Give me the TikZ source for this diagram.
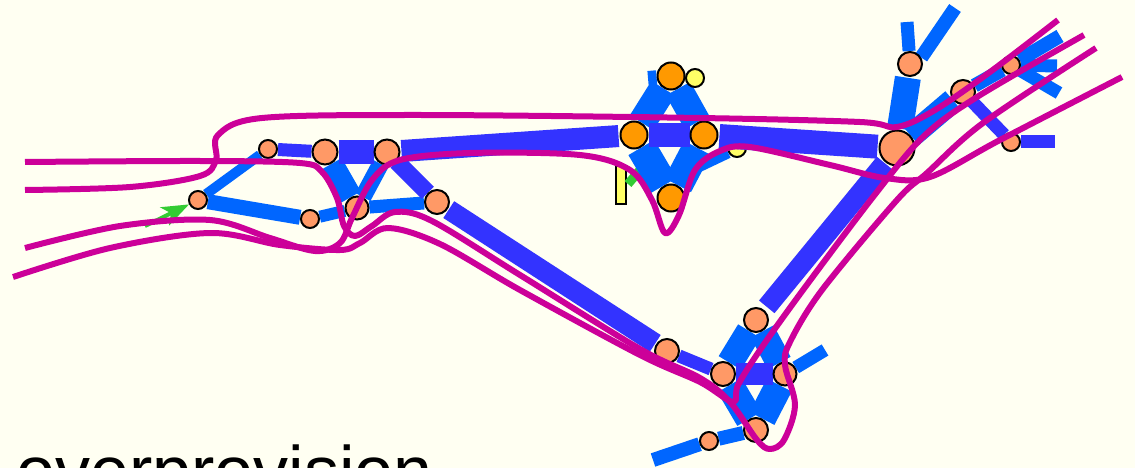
\documentclass[tikz,border=0pt]{standalone}
\usepackage{fontspec}
\usetikzlibrary{arrows.meta}
\setmainfont{Liberation Sans}
\definecolor{paper}{HTML}{FFFFF2}
\definecolor{linkblue}{HTML}{0066FF}
\definecolor{linkpurple}{HTML}{3333FF}
\definecolor{peachy}{HTML}{FF9966}
\definecolor{orangey}{HTML}{FF9900}
\definecolor{lemon}{HTML}{FFFF66}
\definecolor{flowpink}{HTML}{CC0099}
\definecolor{leafgreen}{HTML}{33CC33}
\pgfdeclarelayer{sheet}
\pgfdeclarelayer{links}
\pgfsetlayers{sheet,links,main}
\tikzset{
  router/.style={circle,draw=black,line width=2pt,fill=peachy,inner sep=0pt,minimum size=#1},
  hub/.style={router=#1,fill=orangey},
  host/.style={router=#1,fill=lemon},
  bluelink/.style={draw=linkblue,line width=#1},
  purplelink/.style={draw=linkpurple,line width=#1},
  flow/.style={draw=flowpink,line width=6pt,line join=round}
}
\begin{document}
\begin{tikzpicture}[x=1pt,y=-1pt]
\clip (0,0) rectangle (1135,468);
\begin{pgfonlayer}{sheet}
\fill[paper] (0,0) rectangle (1135,468);
\end{pgfonlayer}
\node[host=18pt] (y1) at (695,78) {};
% left part
\node[router=18pt] (a) at (198,200) {};
\node[router=18pt] (b) at (268,149) {};
\node[router=25pt] (c) at (325,152) {};
\node[router=25pt] (d) at (387,152) {};
\node[router=23pt] (e) at (357,208) {};
\node[router=18pt] (f) at (310,219) {};
\node[router=24pt] (g) at (437,202) {};
% centre
\node[hub=27pt] (n) at (634,135) {};
\node[hub=27pt] (o) at (704,135) {};
\node[hub=27pt] (p) at (671,76) {};
\node[hub=27pt] (q) at (671,198) {};
% bottom
\node[router=24pt] (h) at (667,351) {};
\node[router=24pt] (i) at (723,374) {};
\node[router=24pt] (j) at (756,320) {};
\node[router=23pt] (k) at (785,374) {};
\node[router=24pt] (l) at (756,430) {};
\node[router=18pt] (m) at (709,441) {};
% top right
\node[router=35pt] (s) at (897,148) {};
\node[router=24pt] (t) at (910,64) {};
\node[router=24pt] (u) at (963,92) {};
\node[router=18pt] (v) at (1011,65) {};
\node[router=18pt] (w) at (1011,142) {};
% free ends
\coordinate (m1) at (653,460);
\coordinate (k1) at (825,350);
\coordinate (t1) at (907,22);
\coordinate (t2) at (955,8);
\coordinate (v1) at (1060,36);
\coordinate (v2) at (1057,66);
\coordinate (v3) at (1059,93);
\coordinate (w1) at (1055,142);
\coordinate (p1) at (648,78);
\coordinate (q1) at (695,168);
\coordinate (g1) at (145,226);
\coordinate (g2) at (628,184);
\coordinate (g3) at (640,170);
\begin{pgfonlayer}{links}
\node[host=18pt] (y2) at (737,148) {};
\node[draw=black,line width=2pt,fill=lemon,inner sep=0pt,minimum width=10pt,minimum height=38pt] (y3) at (621,185) {};
\draw[leafgreen,line width=4pt,-{Stealth[length=27pt,width=20pt,inset=7pt]}] (g1) -- (a);
\draw[leafgreen,line width=9pt] (g2) -- (g3);
\path[bluelink=10pt] (a) -- (b);
\path[bluelink=15pt] (a) -- (f);
\path[bluelink=12pt] (f) -- (e);
\path[bluelink=23pt] (c) -- (e);
\path[bluelink=17pt] (d) -- (e);
\path[bluelink=13pt] (e) -- (g);
\path[purplelink=13pt] (b) -- (c);
\path[purplelink=24pt] (c) -- (d);
\path[purplelink=17pt] (d) -- (g);
\path[purplelink=22pt,shorten >=1pt,shorten <=1pt] (d) -- (n);
\path[purplelink=20pt,shorten <=1pt,shorten >=1pt] (g) -- (h);
\path[purplelink=13pt] (h) -- (i);
\path[bluelink=28pt] (n) -- (p);
\path[bluelink=14pt] (p) -- (p1);
\path[bluelink=28pt] (p) -- (o);
\path[bluelink=30pt] (n) -- (q);
\path[bluelink=30pt] (o) -- (q);
\path[bluelink=12pt] (q1) -- (y2);
\path[purplelink=24pt] (n) -- (o);
\path[purplelink=24pt,shorten <=1pt,shorten >=1pt] (o) -- (s);
\path[bluelink=26pt] (i) -- (j);
\path[bluelink=26pt] (j) -- (k);
\path[bluelink=28pt] (i) -- (l);
\path[bluelink=28pt] (k) -- (l);
\path[purplelink=22pt] (i) -- (k);
\path[bluelink=14pt] (l) -- (m);
\path[bluelink=14pt] (m) -- (m1);
\path[bluelink=13pt] (k) -- (k1);
\path[purplelink=20pt,shorten <=4pt,shorten >=1pt] (j) -- (s);
\path[bluelink=26pt,shorten >=1pt,shorten <=1pt] (s) -- (t);
\path[bluelink=13pt] (t) -- (t1);
\path[bluelink=14pt] (t.30) -- (t2);
\path[bluelink=24pt] (s) -- (u);
\path[bluelink=14pt] (u) -- (v);
\path[bluelink=14pt] (v) -- (v1);
\path[bluelink=13pt] (v) -- (v2);
\path[bluelink=13pt] (v) -- (v3);
\path[purplelink=13pt] (u) -- (w);
\path[purplelink=13pt] (w) -- (w1);
\end{pgfonlayer}
% flows
\path[flow] plot[smooth,tension=0.55] coordinates {(25,190) (130,187) (200,176) (216,160) (218,135) (262,118) (420,115) (700,118) (860,122) (897,127) (935,110) (990,72) (1058,20)};
\path[flow] plot[smooth,tension=0.55] coordinates {(25,162) (200,161) (300,163) (322,172) (337,198) (344,226) (355,236) (372,226) (395,212) (432,221) (520,275) (640,349) (700,378) (730,402) (757,440) (770,449) (784,440) (795,405) (785,365) (790,342) (822,290) (897,200) (927,173) (983,123) (1096,48)};
\path[flow] plot[smooth,tension=0.55] coordinates {(25,248) (120,226) (210,220) (270,238) (315,251) (340,243) (352,218) (372,180) (400,160) (470,153) (580,155) (630,170) (652,200) (665,233) (679,215) (695,170) (720,151) (750,147) (830,165) (885,178) (930,177) (1000,140) (1122,77)};
\path[flow] plot[smooth,tension=0.55] coordinates {(13,277) (110,248) (210,233) (280,245) (340,250) (360,243) (388,228) (440,244) (520,290) (640,355) (700,382) (733,402) (738,385) (760,350) (803,290) (873,197) (923,137) (977,97) (1084,35)};
\node[anchor=base west,inner sep=0pt,font=\fontsize{70}{80}\selectfont] (label) at (16,495) {overprovision};
\end{tikzpicture}
\end{document}
